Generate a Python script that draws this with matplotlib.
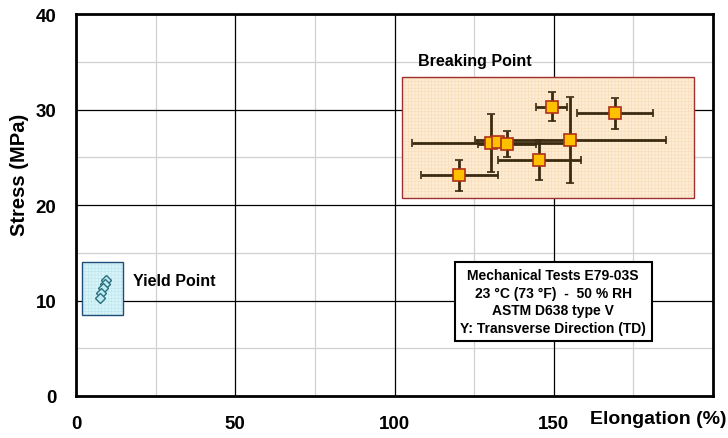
import matplotlib.pyplot as plt
from matplotlib.patches import Rectangle

# breaking point data (elongation %, stress MPa)
brk_elong = [149.3, 169.3, 155.2, 145.4, 120.4, 130.3, 132.4, 135.3]
brk_elong_err = [5.0, 12.0, 30.0, 13.0, 12.0, 24.7, 3.0, 9.0]
brk_stress = [30.3, 29.6, 26.8, 24.7, 23.1, 26.5, 26.6, 26.4]
brk_stress_err = [1.5, 1.6, 4.5, 2.1, 1.6, 3.0, 0.5, 1.4]

# yield point data
yld_elong = [9.4, 9.0, 8.5, 8.0, 7.5]
yld_elong_err = [0.4, 0.4, 0.4, 0.4, 0.4]
yld_stress = [12.1, 11.7, 11.3, 10.8, 10.3]
yld_stress_err = [0.3, 0.3, 0.3, 0.3, 0.3]

x_ticks = [0, 50, 100, 150]
y_ticks = [0, 10, 20, 30, 40]

plt.rcParams['font.family'] = ['Liberation Sans', 'DejaVu Sans']
plt.rcParams['font.weight'] = 'bold'
plt.rcParams['hatch.linewidth'] = 0.3

fig = plt.figure(figsize=(7.28, 4.39), dpi=100)
ax = fig.add_axes([0.1044, 0.0957, 0.875, 0.870])

ax.set_xlim(0, 200)
ax.set_ylim(0, 40)

# grid
for v in range(25, 200, 50):
    ax.axvline(v, color='#d0d0d0', lw=0.9, zorder=0)
for v in range(5, 40, 10):
    ax.axhline(v, color='#d0d0d0', lw=0.9, zorder=0)
for v in range(50, 200, 50):
    ax.axvline(v, color='black', lw=0.9, zorder=0)
for v in range(10, 40, 10):
    ax.axhline(v, color='black', lw=0.9, zorder=0)

# breaking zone
ax.add_patch(Rectangle((102.4, 20.7), 91.6, 12.7, facecolor='#fdebd3',
                       edgecolor='#f8d8ae', hatch='+++++', lw=0, zorder=1))
ax.add_patch(Rectangle((102.4, 20.7), 91.6, 12.7, fill=False,
                       edgecolor='#a03030', lw=1.0, zorder=1))
# yield zone
ax.add_patch(Rectangle((2.0, 8.5), 12.9, 5.5, facecolor='#d8f3f7',
                       edgecolor='#ade3ec', hatch='+++++', lw=0, zorder=1))
ax.add_patch(Rectangle((2.0, 8.5), 12.9, 5.5, fill=False,
                       edgecolor='#1f4e79', lw=1.0, zorder=1))

ax.errorbar(brk_elong, brk_stress, xerr=brk_elong_err, yerr=brk_stress_err,
            fmt='s', color='#3a2a10', ecolor='#3a2a10', elinewidth=2,
            capsize=3, capthick=2, markersize=8, markerfacecolor='#ffc000',
            markeredgecolor='#b0301a', markeredgewidth=1.2, zorder=3)
ax.errorbar(yld_elong, yld_stress, xerr=yld_elong_err, yerr=yld_stress_err,
            fmt='D', color='#2a6f80', ecolor='#2a6f80', elinewidth=1,
            capsize=1.5, markersize=5, markerfacecolor='#bfeaf2',
            markeredgecolor='#2a6f80', markeredgewidth=1, zorder=3)

ax.text(107.5, 35.1, 'Breaking Point', fontsize=11.5, fontweight='bold',
        ha='left', va='center')
ax.text(18, 12.1, 'Yield Point', fontsize=11.5, fontweight='bold',
        ha='left', va='center')
ax.text(149.8, 9.9,
        'Mechanical Tests E79-03S\n23 °C (73 °F)  -  50 % RH\n'
        'ASTM D638 type V\nY: Transverse Direction (TD)',
        fontsize=10, fontweight='bold', ha='center', va='center',
        linespacing=1.35,
        bbox=dict(boxstyle='square,pad=0.4', facecolor='white',
                  edgecolor='black', lw=1.5), zorder=4)

ax.set_xticks(x_ticks)
ax.set_yticks(y_ticks)
ax.tick_params(length=0, labelsize=13.5, pad=14)
for lab in ax.get_xticklabels() + ax.get_yticklabels():
    lab.set_fontweight('bold')
for s in ax.spines.values():
    s.set_linewidth(2)

fig.text(0.9986, 1 - 420 / 439, 'Elongation (%)', fontsize=14,
         fontweight='bold', ha='right', va='center')
fig.text(20 / 728, 1 - 175 / 439, 'Stress (MPa)', fontsize=14.5,
         fontweight='bold', ha='center', va='center', rotation=90)

fig.savefig('out.png', dpi=100)
